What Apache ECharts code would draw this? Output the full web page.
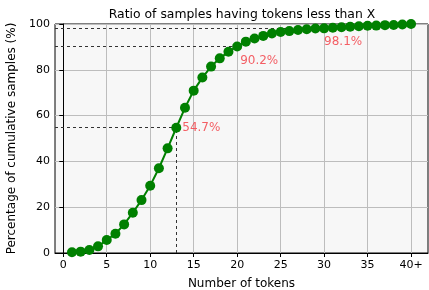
<!DOCTYPE html>
<html>
<head>
<meta charset="utf-8">
<script src="https://cdn.jsdelivr.net/npm/echarts@6/dist/echarts.min.js"></script>
<style>
  html, body { margin: 0; padding: 0; background: #fff; }
  #chart { width: 429px; height: 290px; }
</style>
</head>
<body>
<div id="chart"></div>
<script>
// data
var tokens = [1, 2, 3, 4, 5, 6, 7, 8, 9, 10, 11, 12, 13, 14, 15, 16, 17, 18, 19, 20,
  21, 22, 23, 24, 25, 26, 27, 28, 29, 30, 31, 32, 33, 34, 35, 36, 37, 38, 39, 40];
var cumulative = [0.3, 0.6, 1.3, 2.9, 5.7, 8.4, 12.5, 17.6, 23.1, 29.4, 37.0, 45.7, 54.7, 63.4, 70.9, 76.6, 81.4, 85.0, 87.9, 90.2,
  92.3, 93.7, 94.8, 95.9, 96.5, 96.9, 97.4, 97.7, 98.0, 98.1, 98.4, 98.6, 98.8, 99.0, 99.2, 99.3, 99.5, 99.6, 99.8, 100];
var xTicks = [0, 5, 10, 15, 20, 25, 30, 35, 40];
var xTickLabels = ["0", "5", "10", "15", "20", "25", "30", "35", "40+"];
var markX = [13, 20, 30];
var markY = [54.7, 90.2, 98.1];

var xMin = -0.95, xMax = 41.95;
var font = "DejaVu Sans";

var myChart = echarts.init(document.getElementById("chart"));

// dashed guide lines
var guideLines = [];
markX.forEach(function (x, i) {
  guideLines.push([{ coord: [xMin, markY[i]] }, { coord: [x, markY[i]] }]);
});
// only the first one has a vertical drop line
guideLines.push([{ coord: [markX[0], 0] }, { coord: [markX[0], markY[0]] }]);

var labelPos = [[6, 0], [3, 14], [0, 14]];

var option = {
  animation: false,
  title: {
    text: "Ratio of samples having tokens less than X",
    left: 237,
    textAlign: "center",
    top: 4,
    textStyle: { fontFamily: font, fontSize: 12.4, fontWeight: "normal", color: "#000" },
  },
  grid: {
    left: 55,
    right: 1,
    top: 24,
    bottom: 37,
    outerBoundsMode: "none",
    show: true,
    backgroundColor: "#f7f7f7",
    borderColor: "#000",
    borderWidth: 1,
  },
  xAxis: {
    type: "value",
    min: xMin,
    max: xMax,
    name: "Number of tokens",
    nameLocation: "middle",
    nameGap: 25,
    nameTextStyle: { fontFamily: font, fontSize: 12, color: "#000" },
    axisLine: { onZero: false, lineStyle: { color: "#000", width: 1 } },
    axisTick: { customValues: xTicks, length: 4, lineStyle: { color: "#000" } },
    axisLabel: {
      customValues: xTicks,
      fontFamily: font,
      fontSize: 11,
      color: "#000",
      margin: 7,
      formatter: function (v) {
        return xTickLabels[xTicks.indexOf(v)];
      },
    },
    splitLine: { show: true, lineStyle: { color: "#bdbdbd", width: 1 } },
  },
  yAxis: {
    type: "value",
    min: 0,
    max: 100,
    interval: 20,
    name: "Percentage of cumulative samples (%)",
    nameLocation: "middle",
    nameGap: 36,
    nameTextStyle: { fontFamily: font, fontSize: 12, color: "#000" },
    axisLine: { show: true, lineStyle: { color: "#000", width: 1 } },
    axisTick: { show: true, length: 4, lineStyle: { color: "#000" } },
    axisLabel: { fontFamily: font, fontSize: 11, color: "#000", margin: 5 },
    splitLine: { show: true, lineStyle: { color: "#bdbdbd", width: 1 } },
  },
  series: [
    {
      type: "line",
      data: tokens.map(function (t, i) { return [t, cumulative[i]]; }),
      symbol: "circle",
      symbolSize: 10,
      lineStyle: { color: "#008000", width: 2 },
      itemStyle: { color: "#008000" },
      z: 3,
      markLine: {
        silent: true,
        symbol: "none",
        label: { show: false },
        lineStyle: { color: "#333", type: [3, 3], width: 1 },
        data: guideLines,
        z: 2,
      },
    },
    {
      type: "scatter",
      symbolSize: 0,
      silent: true,
      z: 4,
      data: markX.map(function (x, i) {
        return {
          value: [x, markY[i]],
          label: { position: labelPos[i] },
        };
      }),
      label: {
        show: true,
        align: "left",
        verticalAlign: "middle",
        fontFamily: font,
        fontSize: 12,
        color: "#f2373f",
        formatter: function (p) { return p.value[1] + "%"; },
      },
    },
  ],
};

myChart.setOption(option);
</script>
</body>
</html>
